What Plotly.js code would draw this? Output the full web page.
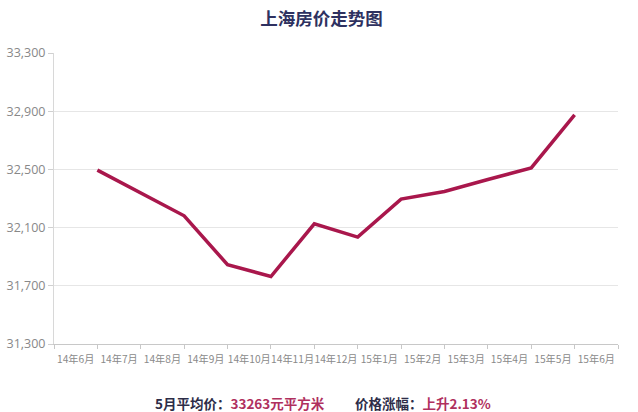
<!DOCTYPE html>
<html>
<head>
<meta charset="utf-8">
<script src="https://cdn.plot.ly/plotly-3.0.1.min.js"></script>
<style>html,body{margin:0;padding:0;background:#fff;}#chart{width:638px;height:412px;}</style>
</head>
<body>
<div id="chart"></div>
<script>
// Month category labels (13 slots along the x axis)
const monthLabels = ['14年6月','14年7月','14年8月','14年9月','14年10月','14年11月','14年12月',
                     '15年1月','15年2月','15年3月','15年4月','15年5月','15年6月'];
// Price readings, one at each boundary between consecutive month slots
const prices = [32495, 32337, 32181, 31845, 31764, 32126, 32035, 32296, 32348, 32431, 32510, 32875];
// Y axis tick values
const yTicks = [31300, 31700, 32100, 32500, 32900, 33300];

const titleText = '上海房价走势图';
const avgLabel = '5月平均价：';
const avgValue = '33263元平方米';
const riseLabel = '价格涨幅：';
const riseValue = '上升2.13%';

// boundary index k (1..12) lies between slot k-1 and slot k
const xPts = prices.map((_, i) => i + 1);
const labelPos = monthLabels.map((_, i) => i + 0.5);

const cjk = '"Noto Sans CJK SC", "Open Sans", sans-serif';
const red = '#a9174c';

const trace = {
  x: xPts, y: prices, type: 'scatter', mode: 'lines',
  line: {color: red, width: 3.5}, hoverinfo: 'skip'
};

const layout = {
  width: 638, height: 412,
  margin: {l: 54, r: 20, t: 53, b: 68},
  paper_bgcolor: '#fff', plot_bgcolor: '#fff',
  showlegend: false,
  title: {text: titleText, x: 0.504, xanchor: 'center', y: 0.955, yanchor: 'middle',
          font: {family: cjk, size: 17.5, color: '#2e3160', weight: 'bold'}},
  xaxis: {
    range: [0, monthLabels.length], fixedrange: true,
    tickmode: 'array', tickvals: labelPos, ticktext: monthLabels,
    ticks: '', tickangle: 0, ticklabelstandoff: 6,
    tickfont: {family: cjk, size: 10.2, color: '#8a8a8a'},
    showgrid: false, zeroline: false,
    showline: true, linecolor: '#c8c8c8', linewidth: 1,
    minor: {tick0: 0, dtick: 1, ticks: 'outside', ticklen: 4, tickcolor: '#c8c8c8', tickwidth: 1, showgrid: false}
  },
  yaxis: {
    range: [31300, 33300], fixedrange: true,
    tickmode: 'array', tickvals: yTicks, tickformat: ',d',
    ticks: 'outside', ticklen: 5, tickcolor: '#d0d0d0',
    tickfont: {family: '"Open Sans", sans-serif', size: 12.5, color: '#888'},
    showgrid: true, gridcolor: '#e6e6e6', gridwidth: 1,
    zeroline: false, showline: true, linecolor: '#d8d8d8', linewidth: 1
  },
  annotations: [
    {xref: 'paper', yref: 'paper', x: (153 - 54) / 564, y: -0.202, xanchor: 'left', yanchor: 'middle',
     showarrow: false, font: {family: cjk, size: 13.5, color: '#2d2d48', weight: 'bold'},
     text: avgLabel + '<span style="color:#b0305e">' + avgValue + '</span>'},
    {xref: 'paper', yref: 'paper', x: (353 - 54) / 564, y: -0.202, xanchor: 'left', yanchor: 'middle',
     showarrow: false, font: {family: cjk, size: 13.5, color: '#2d2d48', weight: 'bold'},
     text: riseLabel + '<span style="color:#b0305e">' + riseValue + '</span>'}
  ]
};

Plotly.newPlot('chart', [trace], layout, {staticPlot: true, displayModeBar: false});
</script>
</body>
</html>
